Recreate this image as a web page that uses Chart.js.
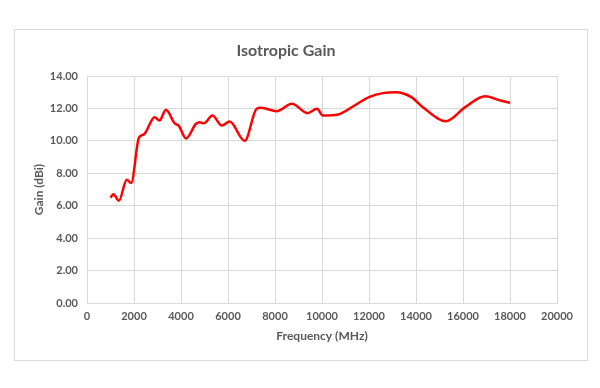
<!DOCTYPE html>
<html>
<head>
<meta charset="utf-8">
<script src="https://cdn.jsdelivr.net/npm/chart.js@4"></script>
<style>
  body { margin: 0; background: #fff; }
  #box { position: absolute; left: 14px; top: 29px; width: 572px; height: 330px; border: 1px solid #d9d9d9; }
</style>
</head>
<body>
<div id="box"><canvas id="gain-chart" width="572" height="330"></canvas></div>
<script>
// values
const freq = [1000, 1130, 1360, 1690, 1880, 2210, 2420, 2880, 3080, 3360, 3730, 3900, 4220, 4630, 4800, 4970, 5340, 5740, 6070, 6710, 7220, 7410, 8070, 8720, 9380, 9790, 10030, 10690, 11350, 12000, 12650, 13140, 13800, 14290, 15270, 16090, 16940, 17560, 18000];
const gain = [6.50, 6.70, 6.31, 7.60, 7.40, 10.20, 10.40, 11.46, 11.25, 11.92, 11.08, 10.94, 10.15, 11.04, 11.15, 11.08, 11.56, 10.94, 11.19, 10.00, 11.98, 12.04, 11.83, 12.29, 11.71, 11.98, 11.56, 11.63, 12.15, 12.70, 12.96, 13.00, 12.70, 12.08, 11.21, 12.08, 12.75, 12.50, 12.35];
const chartTitle = 'Isotropic Gain';
const xTitle = 'Frequency (MHz)';
const yTitle = 'Gain (dBi)';

const gray = '#595959';
const gridColor = '#d9d9d9';
const font = 'Lato, "Open Sans", sans-serif';

const points = freq.map((f, i) => ({ x: f, y: gain[i] }));

new Chart(document.getElementById('gain-chart'), {
  type: 'scatter',
  data: {
    datasets: [{
      data: points,
      showLine: true,
      borderColor: '#ff0000',
      borderWidth: 2.5,
      pointRadius: 0,
      cubicInterpolationMode: 'monotone',
      fill: false
    }]
  },
  options: {
    responsive: false,
    animation: false,
    layout: { padding: { left: 0, right: 30, top: 0, bottom: 0 } },
    plugins: {
      legend: { display: false },
      tooltip: { enabled: false },
      title: {
        display: true,
        text: chartTitle,
        color: gray,
        font: { family: font, size: 16, weight: 'bold' },
        padding: { top: 11, bottom: 15.8 }
      }
    },
    scales: {
      x: {
        type: 'linear',
        min: 0,
        max: 20000,
        afterFit: (s) => { s.height = 57; },
        ticks: {
          stepSize: 2000,
          color: gray,
          padding: 7,
          maxRotation: 0,
          font: { family: font, size: 11, weight: 'bold' },
          callback: (v) => String(v)
        },
        grid: { color: gridColor, drawTicks: false },
        border: { color: gridColor },
        title: {
          display: true,
          text: xTitle,
          color: gray,
          font: { family: font, size: 12, weight: 'bold' },
          padding: { top: 0, bottom: 17 }
        }
      },
      y: {
        min: 0,
        max: 14,
        afterFit: (s) => { s.width = 72; },
        ticks: {
          stepSize: 2,
          color: gray,
          padding: 9,
          font: { family: font, size: 11, weight: 'bold' },
          callback: (v) => v.toFixed(2)
        },
        grid: { color: gridColor, drawTicks: false },
        border: { color: gridColor },
        title: {
          display: true,
          text: yTitle,
          color: gray,
          font: { family: font, size: 12, weight: 'bold' },
          padding: { top: 17, bottom: 0 }
        }
      }
    }
  }
});
</script>
</body>
</html>
